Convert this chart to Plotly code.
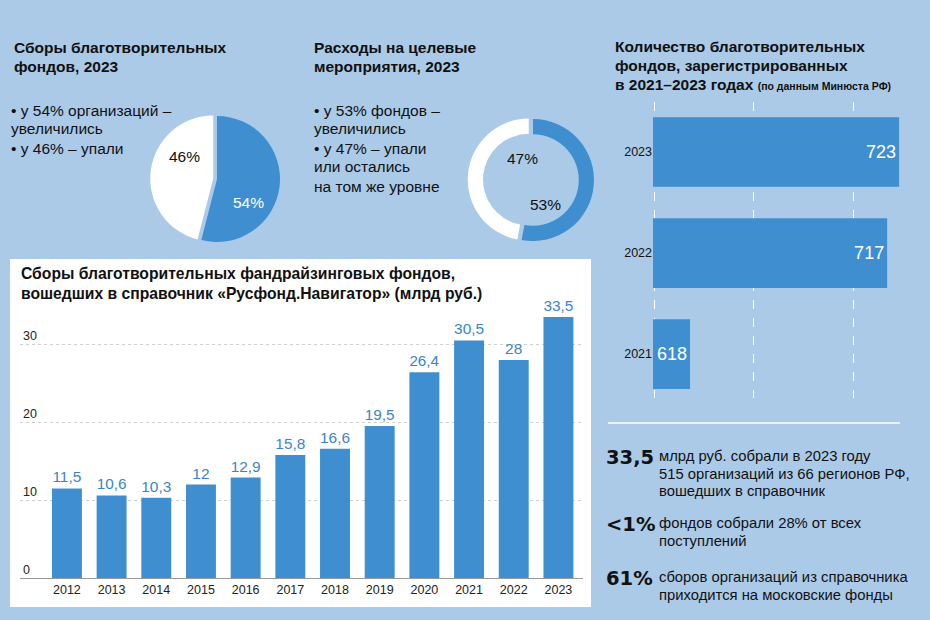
import plotly.graph_objects as go

W, H = 930, 620
BG = "#abcae8"
BLUE = "#3f8fd0"
LABEL_BLUE = "#3b85c5"
DARK = "#111111"
FONT = "Liberation Sans, Arial, sans-serif"

# ---- data ----
years = ["2012", "2013", "2014", "2015", "2016", "2017",
         "2018", "2019", "2020", "2021", "2022", "2023"]
collected = [11.5, 10.6, 10.3, 12, 12.9, 15.8, 16.6, 19.5, 26.4, 30.5, 28, 33.5]
y_ticks = [0, 10, 20, 30]

reg_years = [2021, 2022, 2023]
reg_counts = [618, 717, 723]

share_labels = ["выросли", "упали"]
donation_share = [54, 46]
spend_share = [53, 47]

title1 = ["Сборы благотворительных", "фондов, 2023"]
bullets1 = ["• у 54% организаций –", "увеличились", "• у 46% – упали"]
title2 = ["Расходы на целевые", "мероприятия, 2023"]
bullets2 = ["• у 53% фондов –", "увеличились", "• у 47% – упали", "или остались", "на том же уровне"]
title3 = ["Количество благотворительных", "фондов, зарегистрированных",
          "в 2021–2023 годах <span style='font-size:10.5px'>(по данным Минюста РФ)</span>"]
bar_title = ["Сборы благотворительных фандрайзинговых фондов,",
             "вошедших в справочник «Русфонд.Навигатор» (млрд руб.)"]
facts = [
    ("33,5", ["млрд руб. собрали в 2023 году", "515 организаций из 66 регионов РФ,", "вошедших в справочник"]),
    ("<1%", ["фондов собрали 28% от всех", "поступлений"]),
    ("61%", ["сборов организаций из справочника", "приходится на московские фонды"]),
]


def fmt(v):
    return f"{v:g}".replace(".", ",")


def px(x):
    return x / W


def py(y):
    return 1 - y / H


fig = go.Figure()

# ---- vertical bar chart ----
fig.add_trace(go.Bar(
    x=years, y=collected, text=[fmt(v) for v in collected],
    textposition="outside", cliponaxis=False,
    textfont=dict(size=15.5, color=LABEL_BLUE, family=FONT),
    marker=dict(color=BLUE, line=dict(width=0)), width=0.67,
    xaxis="x", yaxis="y", hoverinfo="skip", showlegend=False,
))

# ---- horizontal bar chart ----
fig.add_trace(go.Bar(
    y=reg_years, x=reg_counts, orientation="h",
    text=[str(v) for v in reg_counts], textposition="inside", insidetextanchor="end",
    textfont=dict(size=18, color="white", family=FONT),
    marker=dict(color=BLUE, line=dict(width=0)), width=0.69,
    xaxis="x2", yaxis="y2", hoverinfo="skip", showlegend=False,
))

# ---- pie ----
def pie_domain(cx, cy, r, pull):
    half = r * (1 + pull)
    return dict(x=[px(cx - half), px(cx + half)], y=[py(cy + half), py(cy - half)])

fig.add_trace(go.Pie(
    values=donation_share, labels=share_labels, sort=False, direction="clockwise",
    rotation=0, pull=[0, 0.06], textinfo="none", hoverinfo="skip", showlegend=False,
    marker=dict(colors=[BLUE, "white"], line=dict(width=0)),
    domain=pie_domain(217, 179, 63, 0.06),
))

fig.add_trace(go.Pie(
    values=spend_share, labels=share_labels, sort=False, direction="clockwise",
    rotation=0, pull=[0, 0.07], hole=0.75, textinfo="none", hoverinfo="skip", showlegend=False,
    marker=dict(colors=[BLUE, "white"], line=dict(width=0)),
    domain=pie_domain(533, 180, 61, 0.07),
))

ann = []


def text(x, y, s, size=14, color=DARK, bold=False, xanchor="left", family=FONT):
    ann.append(dict(
        x=px(x), y=py(y), xref="paper", yref="paper", text=(f"<b>{s}</b>" if bold else s),
        showarrow=False, xanchor=xanchor, yanchor="middle",
        font=dict(size=size, color=color, family=family),
    ))


for i, s in enumerate(title1):
    text(12, 47 + 19 * i, s, size=15.5, bold=True)
for i, s in enumerate(bullets1):
    text(9, 110 + 19 * i, s, size=15.5)
for i, s in enumerate(title2):
    text(312, 47 + 19 * i, s, size=15.5, bold=True)
for i, s in enumerate(bullets2):
    text(312, 110 + 19 * i, s, size=15.5)
for i, s in enumerate(title3):
    text(613, 46 + 19 * i, s, size=15.5, bold=True)
for i, s in enumerate(bar_title):
    text(19, 273 + 20 * i, s, size=15.7, bold=True)

# pie percentages
text(248, 203, f"{donation_share[0]}%", size=15.5, color="white", xanchor="center")
text(184, 157, f"{donation_share[1]}%", size=15.5, xanchor="center")
text(545, 205, f"{spend_share[0]}%", size=15.5, xanchor="center")
text(522, 158, f"{spend_share[1]}%", size=15.5, xanchor="center")

# facts block
fact_y = [456, 523, 577]
for (big, lines), y0 in zip(facts, fact_y):
    text(604, y0 + 1, big, size=19.5, bold=True, family="DejaVu Sans, sans-serif")
    for i, s in enumerate(lines):
        text(657, y0 + 17.5 * i, s, size=14.8)

shapes = [
    dict(type="rect", xref="paper", yref="paper", x0=px(10), x1=px(591), y0=py(607), y1=py(259),
         fillcolor="white", line=dict(width=0), layer="below"),
    dict(type="line", xref="paper", yref="paper", x0=px(608), x1=px(900), y0=py(423), y1=py(423),
         line=dict(color="white", width=1.5)),
]

fig.update_layout(
    width=W, height=H, margin=dict(l=0, r=0, t=0, b=0),
    paper_bgcolor=BG, plot_bgcolor="rgba(0,0,0,0)",
    font=dict(family=FONT, color=DARK),
    annotations=ann, shapes=shapes, bargap=0.33,
    xaxis=dict(domain=[px(20), px(583)], type="category", range=[-1.05, 11.55],
               showgrid=False, showline=True, linecolor="#9a9a9a", linewidth=1,
               ticks="", tickfont=dict(size=12.5, color="#222"), anchor="y", fixedrange=True),
    yaxis=dict(domain=[py(578), py(282)], range=[0, 38], tickvals=y_ticks,
               showgrid=True, gridcolor="#cfcfcf", griddash="dot", gridwidth=1,
               zeroline=False, ticks="", ticklabelposition="inside top",
               tickfont=dict(size=12.5, color="#222"), anchor="x", fixedrange=True),
    xaxis2=dict(domain=[px(653), px(923)], range=[599.4, 735], tickvals=[600, 650, 700],
                showticklabels=False, showgrid=True, gridcolor="white", griddash="dash",
                gridwidth=1, zeroline=False, ticks="", anchor="y2", fixedrange=True),
    yaxis2=dict(domain=[py(398), py(102)], range=[2020.565, 2023.495], tickvals=reg_years,
                ticktext=[str(v) for v in reg_years], showgrid=False, zeroline=False,
                ticks="", tickfont=dict(size=12.5, color="#111"), anchor="x2", fixedrange=True),
)

fig.write_html(
    "out.html",
    config=dict(displayModeBar=False),
    post_script="document.body.style.margin='0';document.body.style.padding='0';document.body.style.overflow='hidden';",
)
